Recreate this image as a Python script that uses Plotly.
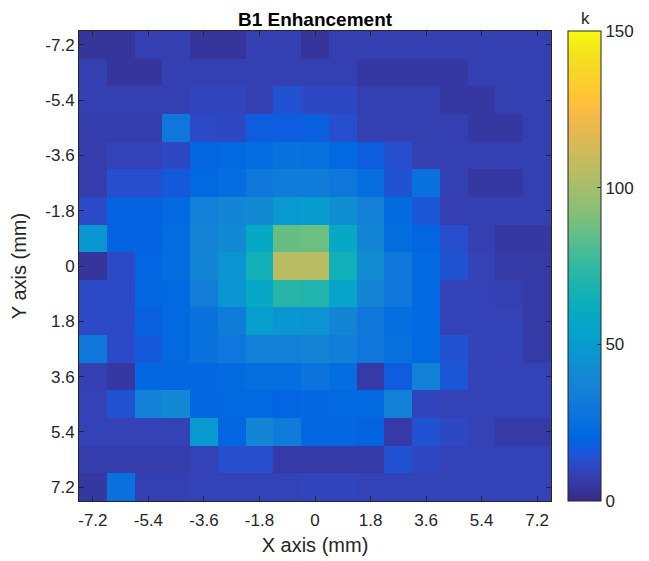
import plotly.graph_objects as go

# Cell centres (mm)
x_mm = [-7.2, -6.3, -5.4, -4.5, -3.6, -2.7, -1.8, -0.9, 0.0, 0.9, 1.8, 2.7, 3.6, 4.5, 5.4, 6.3, 7.2]
y_mm = [-7.2, -6.3, -5.4, -4.5, -3.6, -2.7, -1.8, -0.9, 0.0, 0.9, 1.8, 2.7, 3.6, 4.5, 5.4, 6.3, 7.2]

tick_vals = [-7.2, -5.4, -3.6, -1.8, 0, 1.8, 3.6, 5.4, 7.2]
tick_text = ["-7.2", "-5.4", "-3.6", "-1.8", "0", "1.8", "3.6", "5.4", "7.2"]
cbar_ticks = [0, 50, 100, 150]

# Enhancement values, rows from y=-7.2 (top) to y=7.2 (bottom)
row_m72 = [4, 4, 8, 8, 4, 4, 8, 8, 4, 8, 8, 8, 8, 8, 8, 8, 8]
row_m63 = [8, 4, 4, 8, 8, 8, 8, 8, 8, 8, 5, 5, 5, 5, 8, 8, 8]
row_m54 = [8, 8, 8, 8, 10, 10, 8, 14, 11, 11, 8, 8, 8, 5, 5, 8, 8]
row_m45 = [7, 7, 7, 30, 12, 11, 17, 17, 18, 13, 8, 8, 8, 8, 5, 5, 8]
row_m36 = [7, 9, 9, 11, 20, 22, 24, 27, 26, 22, 17, 13, 8, 8, 8, 8, 8]
row_m27 = [7, 13, 13, 16, 22, 24, 30, 32, 32, 30, 25, 14, 26, 8, 5, 5, 8]
row_m18 = [12, 19, 19, 22, 35, 38, 40, 48, 50, 43, 36, 23, 15, 8, 8, 8, 8]
row_m09 = [47, 19, 19, 24, 37, 40, 58, 86, 87, 58, 38, 24, 20, 13, 8, 5, 5]
row_000 = [4, 12, 20, 24, 38, 45, 65, 105, 105, 65, 42, 30, 22, 14, 9, 6, 6]
row_p09 = [12, 12, 21, 22, 33, 46, 58, 72, 70, 55, 38, 30, 22, 9, 9, 8, 6]
row_p18 = [12, 12, 18, 22, 27, 32, 52, 47, 45, 38, 30, 25, 22, 9, 9, 9, 6]
row_p27 = [30, 12, 16, 22, 27, 29, 35, 35, 37, 34, 30, 26, 22, 14, 9, 9, 6]
row_p36 = [8, 5, 21, 21, 21, 23, 25, 25, 28, 24, 6, 17, 35, 15, 9, 9, 9]
row_p45 = [9, 14, 35, 40, 21, 22, 22, 20, 21, 22, 22, 35, 10, 9, 9, 9, 9]
row_p54 = [9, 9, 9, 9, 48, 20, 38, 32, 21, 21, 19, 6, 14, 11, 9, 6, 6]
row_p63 = [7, 7, 7, 7, 9, 13, 13, 6, 6, 6, 6, 14, 11, 9, 9, 9, 9]
row_p72 = [5, 26, 8, 8, 9, 9, 9, 9, 10, 10, 9, 9, 9, 9, 9, 9, 9]

enhancement = [row_m72, row_m63, row_m54, row_m45, row_m36, row_m27, row_m18, row_m09,
               row_000, row_p09, row_p18, row_p27, row_p36, row_p45, row_p54, row_p63, row_p72]

# MATLAB parula colormap
parula = [
    [0.2081, 0.1663, 0.5292], [0.2116, 0.1898, 0.5777], [0.2123, 0.2138, 0.6270], [0.2081, 0.2386, 0.6771],
    [0.1959, 0.2645, 0.7279], [0.1707, 0.2919, 0.7792], [0.1253, 0.3242, 0.8303], [0.0591, 0.3598, 0.8683],
    [0.0117, 0.3875, 0.8820], [0.0060, 0.4086, 0.8828], [0.0165, 0.4266, 0.8786], [0.0329, 0.4430, 0.8720],
    [0.0498, 0.4586, 0.8641], [0.0629, 0.4737, 0.8554], [0.0723, 0.4887, 0.8467], [0.0779, 0.5040, 0.8384],
    [0.0793, 0.5200, 0.8312], [0.0749, 0.5375, 0.8263], [0.0641, 0.5570, 0.8240], [0.0488, 0.5772, 0.8228],
    [0.0343, 0.5966, 0.8199], [0.0265, 0.6137, 0.8135], [0.0239, 0.6287, 0.8038], [0.0231, 0.6418, 0.7913],
    [0.0228, 0.6535, 0.7768], [0.0267, 0.6642, 0.7607], [0.0384, 0.6743, 0.7436], [0.0590, 0.6838, 0.7254],
    [0.0843, 0.6928, 0.7062], [0.1133, 0.7015, 0.6859], [0.1453, 0.7098, 0.6646], [0.1801, 0.7177, 0.6424],
    [0.2178, 0.7250, 0.6193], [0.2586, 0.7317, 0.5954], [0.3022, 0.7376, 0.5712], [0.3482, 0.7424, 0.5473],
    [0.3953, 0.7459, 0.5244], [0.4420, 0.7481, 0.5033], [0.4871, 0.7491, 0.4840], [0.5300, 0.7491, 0.4661],
    [0.5709, 0.7485, 0.4494], [0.6099, 0.7473, 0.4337], [0.6473, 0.7456, 0.4188], [0.6834, 0.7435, 0.4044],
    [0.7184, 0.7411, 0.3905], [0.7525, 0.7384, 0.3768], [0.7858, 0.7356, 0.3633], [0.8185, 0.7327, 0.3498],
    [0.8507, 0.7299, 0.3360], [0.8824, 0.7274, 0.3217], [0.9139, 0.7258, 0.3063], [0.9450, 0.7261, 0.2886],
    [0.9739, 0.7314, 0.2666], [0.9938, 0.7455, 0.2403], [0.9990, 0.7653, 0.2164], [0.9955, 0.7861, 0.1967],
    [0.9880, 0.8066, 0.1794], [0.9789, 0.8271, 0.1633], [0.9697, 0.8481, 0.1475], [0.9626, 0.8705, 0.1309],
    [0.9589, 0.8949, 0.1132], [0.9598, 0.9218, 0.0948], [0.9661, 0.9514, 0.0755], [0.9763, 0.9831, 0.0538],
]
n = len(parula)
colorscale = [[i / (n - 1), "rgb(%d,%d,%d)" % tuple(round(v * 255) for v in c)] for i, c in enumerate(parula)]

FONT = "Arial, Liberation Sans, Helvetica, sans-serif"
AX = "#262626"

fig = go.Figure(go.Heatmap(
    x=x_mm, y=y_mm, z=enhancement,
    colorscale=colorscale, zmin=0, zmax=150,
    colorbar=dict(
        x=1.036, xanchor="left", xpad=0, y=0.5, yanchor="middle", len=1.0, lenmode="fraction",
        thickness=33, thicknessmode="pixels", ypad=0,
        outlinecolor=AX, outlinewidth=1,
        tickvals=cbar_ticks, ticks="inside", ticklen=4, tickcolor=AX,
        tickfont=dict(family=FONT, size=17, color=AX),
    ),
))

# page body has an 8px default margin; the figure is sized to fit inside the 649x561 window
fig.update_layout(
    width=641, height=553,
    margin=dict(l=71, r=98, t=23, b=60, autoexpand=False),
    paper_bgcolor="white", plot_bgcolor="white",
    title=dict(text="<b>B1 Enhancement</b>", xref="paper", x=0.5, xanchor="center",
               yref="container", y=0.980, yanchor="middle",
               font=dict(family=FONT, size=19, color="black")),
    xaxis=dict(
        range=[-7.65, 7.65], tickvals=tick_vals, ticktext=tick_text,
        ticks="inside", ticklen=5, tickcolor=AX, mirror="ticks", showline=True, linecolor=AX, linewidth=1,
        showgrid=False, zeroline=False, ticklabelstandoff=4,
        tickfont=dict(family=FONT, size=17, color=AX),
        title=dict(text="X axis (mm)", font=dict(family=FONT, size=20, color=AX), standoff=8),
    ),
    yaxis=dict(
        range=[7.65, -7.65], tickvals=tick_vals, ticktext=tick_text,
        ticks="inside", ticklen=5, tickcolor=AX, mirror="ticks", showline=True, linecolor=AX, linewidth=1,
        showgrid=False, zeroline=False,
        tickfont=dict(family=FONT, size=17, color=AX),
        title=dict(text="Y axis (mm)", font=dict(family=FONT, size=20, color=AX), standoff=13),
    ),
    annotations=[dict(text="k", xref="paper", yref="paper", x=1.074, y=1.0, yshift=13,
                      xanchor="center", yanchor="middle", showarrow=False,
                      font=dict(family=FONT, size=17, color=AX))],
)

fig.write_html("out.html")
